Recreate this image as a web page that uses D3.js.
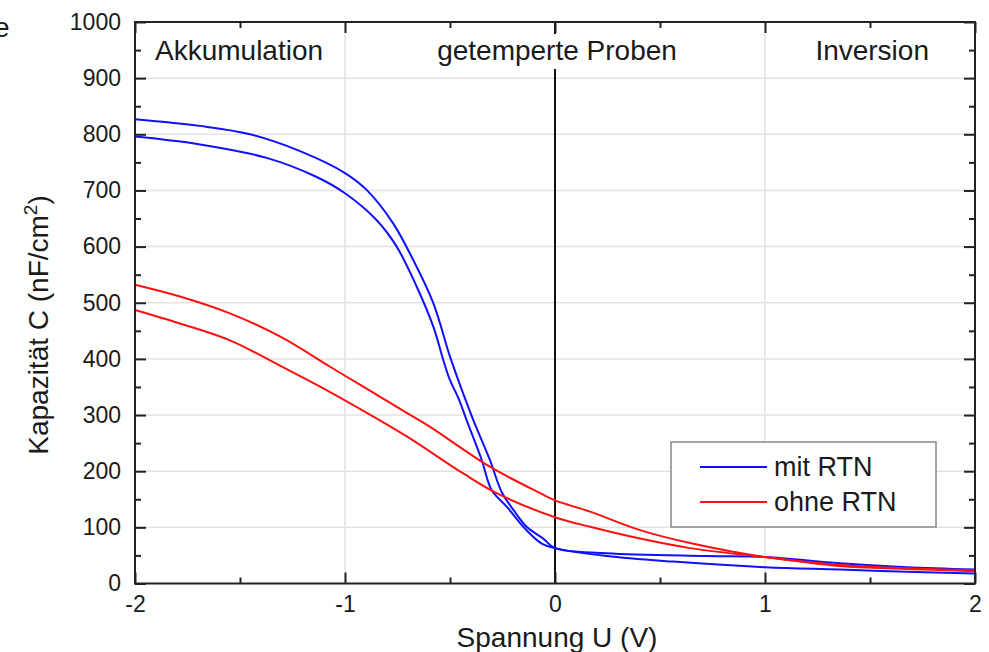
<!DOCTYPE html>
<html>
<head>
<meta charset="utf-8">
<script src="https://cdn.jsdelivr.net/npm/d3@7"></script>
<style>
  body { margin: 0; background: #fff; }
  text { font-family: "Liberation Sans", Arial, Helvetica, sans-serif; fill: #1a1a1a; }
</style>
</head>
<body>
<div id="chart"></div>
<script>
// voltage sweep (V) and capacitance (nF/cm^2)
var mitAU = [-2, -1.69, -1.452, -1.214, -1.0, -0.897, -0.77, -0.675, -0.579, -0.5, -0.429, -0.389, -0.31, -0.254, -0.198, -0.135, -0.056, 0, 0.246, 0.722, 1.0, 1.357, 1.675, 2];
var mitAC = [827, 815, 800, 770, 731, 701, 641, 576, 499, 404, 330, 291, 220, 163, 131, 101, 80, 63, 54, 49, 47, 36, 29, 25];

var mitBU = [-2, -1.69, -1.373, -1.135, -1.0, -0.849, -0.754, -0.659, -0.579, -0.532, -0.5, -0.46, -0.421, -0.349, -0.301, -0.23, -0.151, -0.067, 0, 0.246, 0.563, 1.0, 1.357, 1.675, 2];
var mitBC = [796, 782, 758, 724, 695, 647, 600, 529, 457, 398, 362, 330, 291, 220, 166, 137, 101, 72, 63, 49, 39, 29, 25, 21, 18];

var ohneAU = [-2, -1.786, -1.548, -1.31, -1.071, -0.929, -0.706, -0.595, -0.31, -0.071, 0, 0.167, 0.405, 0.643, 1.0, 1.357, 1.675, 2];
var ohneAC = [532, 511, 481, 440, 386, 354, 304, 279, 208, 161, 148, 128, 95, 72, 47, 33, 27, 23];

var ohneBU = [-2, -1.786, -1.548, -1.31, -1.071, -0.929, -0.706, -0.437, -0.278, 0, 0.167, 0.405, 0.643, 1.0, 1.357, 1.675, 2];
var ohneBC = [487, 463, 433, 388, 341, 311, 262, 196, 161, 118, 101, 80, 63, 47, 31, 26, 22];

var xTicks = [-2, -1, 0, 1, 2];
var xMinor = [-1.5, -0.5, 0.5, 1.5];
var yTicks = [0, 100, 200, 300, 400, 500, 600, 700, 800, 900, 1000];
var yMinor = [50, 150, 250, 350, 450, 550, 650, 750, 850, 950];

var regionLabels = ["Akkumulation", "getemperte Proben", "Inversion"];
var legendLabels = ["mit RTN", "ohne RTN"];

drawChart();

function drawChart() {
    var width = 989,
        height = 652,
        margin = { left: 135, top: 22, right: 14, bottom: 68.5 };

    var w = width - margin.left - margin.right,
        h = height - margin.top - margin.bottom;

    var svg = d3.select('#chart')
        .append('svg')
        .attr('width', width)
        .attr('height', height);

    // clipped label in the upper left corner of the source figure
    svg.append('text')
        .attr('x', -6)
        .attr('y', 37)
        .style('font-size', '28px')
        .text('e');

    var g = svg.append('g')
        .attr('transform', 'translate(' + margin.left + ',' + margin.top + ')');

    var x = d3.scaleLinear().domain([-2, 2]).range([0, w]);
    var y = d3.scaleLinear().domain([0, 1000]).range([h, 0]);

    // grid
    g.selectAll('.vgrid')
        .data(xTicks.slice(1, -1))
        .enter()
        .append('line')
        .attr('x1', function(d) { return x(d); })
        .attr('x2', function(d) { return x(d); })
        .attr('y1', 0)
        .attr('y2', h)
        .attr('stroke', '#e3e3e3')
        .attr('stroke-width', 1.5);

    g.selectAll('.hgrid')
        .data(yTicks.slice(1, -1))
        .enter()
        .append('line')
        .attr('x1', 0)
        .attr('x2', w)
        .attr('y1', function(d) { return y(d); })
        .attr('y2', function(d) { return y(d); })
        .attr('stroke', '#e3e3e3')
        .attr('stroke-width', 1.5);

    // line at U = 0
    g.append('line')
        .attr('x1', x(0))
        .attr('x2', x(0))
        .attr('y1', 0)
        .attr('y2', h)
        .attr('stroke', '#111')
        .attr('stroke-width', 2);

    // white box behind the middle label
    g.append('rect')
        .attr('x', x(0) - 128)
        .attr('y', 12)
        .attr('width', 256)
        .attr('height', 35)
        .attr('fill', '#fff');

    var regionX = [20, x(0) + 2, w - 46];
    var regionAnchor = ['start', 'middle', 'end'];
    g.selectAll('.region')
        .data(regionLabels)
        .enter()
        .append('text')
        .attr('x', function(d, i) { return regionX[i]; })
        .attr('y', 38)
        .attr('text-anchor', function(d, i) { return regionAnchor[i]; })
        .style('font-size', '28px')
        .text(function(d) { return d; });

    // curves
    var line = d3.line()
        .x(function(d) { return x(d[0]); })
        .y(function(d) { return y(d[1]); })
        .curve(d3.curveCatmullRom.alpha(0.5));

    var series = [
        { u: mitAU, c: mitAC, color: '#1010ff' },
        { u: mitBU, c: mitBC, color: '#1010ff' },
        { u: ohneAU, c: ohneAC, color: '#ff1010' },
        { u: ohneBU, c: ohneBC, color: '#ff1010' }
    ];

    g.selectAll('.curve')
        .data(series)
        .enter()
        .append('path')
        .attr('d', function(s) { return line(d3.zip(s.u, s.c)); })
        .attr('fill', 'none')
        .attr('stroke', function(s) { return s.color; })
        .attr('stroke-width', 2);

    // legend
    var legend = g.append('g')
        .attr('transform', 'translate(' + (671 - margin.left) + ',' + (442 - margin.top) + ')');

    legend.append('rect')
        .attr('width', 265)
        .attr('height', 85)
        .attr('fill', '#fff')
        .attr('stroke', '#888')
        .attr('stroke-width', 1.5);

    var legendColor = ['#1010ff', '#ff1010'];
    legendLabels.forEach(function(lab, i) {
        legend.append('line')
            .attr('x1', 29)
            .attr('x2', 96)
            .attr('y1', 25 + i * 35)
            .attr('y2', 25 + i * 35)
            .attr('stroke', legendColor[i])
            .attr('stroke-width', 2);
        legend.append('text')
            .attr('x', 103)
            .attr('y', 25 + i * 35)
            .attr('dy', '0.35em')
            .style('font-size', '27px')
            .text(lab);
    });

    // frame and inward ticks
    var fmt = function(d) { return String(d); };

    function styleAxis(sel) {
        sel.select('.domain').remove();
        sel.selectAll('line').attr('stroke', '#222').attr('stroke-width', 2);
        sel.selectAll('text').style('font-size', '23px').attr('fill', '#1a1a1a');
    }

    g.append('g').attr('transform', 'translate(0,' + h + ')')
        .call(d3.axisBottom(x).tickValues(xTicks).tickFormat(fmt).tickSize(-11).tickPadding(12))
        .call(styleAxis);
    g.append('g').attr('transform', 'translate(0,' + h + ')')
        .call(d3.axisBottom(x).tickValues(xMinor).tickFormat('').tickSize(-6))
        .call(styleAxis);
    g.append('g')
        .call(d3.axisTop(x).tickValues(xTicks).tickFormat('').tickSize(-11))
        .call(styleAxis);
    g.append('g')
        .call(d3.axisTop(x).tickValues(xMinor).tickFormat('').tickSize(-6))
        .call(styleAxis);

    g.append('g')
        .call(d3.axisLeft(y).tickValues(yTicks).tickFormat(fmt).tickSize(-11).tickPadding(14))
        .call(styleAxis);
    g.append('g')
        .call(d3.axisLeft(y).tickValues(yMinor).tickFormat('').tickSize(-6))
        .call(styleAxis);
    g.append('g').attr('transform', 'translate(' + w + ',0)')
        .call(d3.axisRight(y).tickValues(yTicks).tickFormat('').tickSize(-11))
        .call(styleAxis);
    g.append('g').attr('transform', 'translate(' + w + ',0)')
        .call(d3.axisRight(y).tickValues(yMinor).tickFormat('').tickSize(-6))
        .call(styleAxis);

    g.append('rect')
        .attr('width', w)
        .attr('height', h)
        .attr('fill', 'none')
        .attr('stroke', '#222')
        .attr('stroke-width', 2);

    // axis titles
    g.append('text')
        .attr('x', x(0) + 2)
        .attr('y', h + 63)
        .attr('text-anchor', 'middle')
        .style('font-size', '28px')
        .text('Spannung U (V)');

    var yt = g.append('text')
        .attr('transform', 'translate(' + (48 - margin.left) + ',' + (325 - margin.top) + ') rotate(-90)')
        .attr('text-anchor', 'middle')
        .style('font-size', '28px');
    yt.append('tspan').text('Kapazität C (nF/cm');
    yt.append('tspan').attr('dy', -11).style('font-size', '19px').text('2');
    yt.append('tspan').attr('dy', 11).text(')');
}
</script>
</body>
</html>
